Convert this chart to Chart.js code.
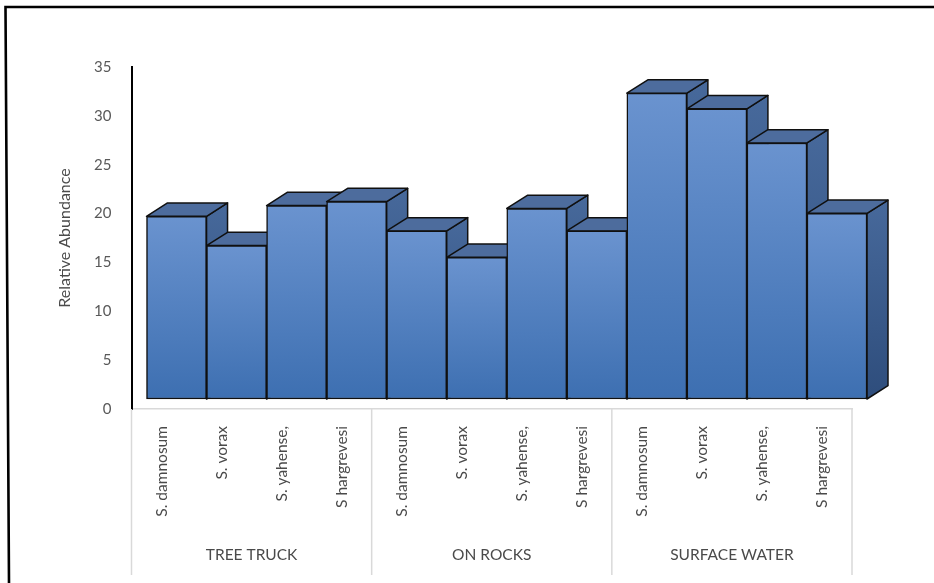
<!DOCTYPE html>
<html><head><meta charset="utf-8">
<script src="https://cdn.jsdelivr.net/npm/chart.js@4.4.1/dist/chart.umd.min.js"></script>
<style>html,body{margin:0;padding:0;background:#fff;} canvas{display:block;}</style>
</head><body>
<canvas id="c" width="934" height="583"></canvas>
<script>
const groups = ['TREE TRUCK', 'ON ROCKS', 'SURFACE WATER'];
const species = ['S. damnosum', 'S. vorax', 'S. yahense,', 'S hargrevesi'];
const treeTruck = [18.7, 15.7, 19.8, 20.2];
const onRocks = [17.2, 14.5, 19.5, 17.2];
const surfaceWater = [31.3, 29.7, 26.2, 19.0];
const yTicks = [0, 5, 10, 15, 20, 25, 30, 35];
const yTitle = 'Relative Abundance';

const labels = groups.flatMap(() => species);
const values = [...treeTruck, ...onRocks, ...surfaceWater];

const DX = 21, DY = 13.3, SHIFT_X = 15, SHIFT_Y = -10;
const FONT = 'Lato';

const framePlugin = {
  id: 'frame',
  beforeDraw(chart) {
    const ctx = chart.ctx;
    ctx.save();
    ctx.fillStyle = '#fff';
    ctx.fillRect(0, 0, chart.width, chart.height);
    ctx.strokeStyle = '#000';
    ctx.lineWidth = 2.6;
    ctx.beginPath();
    ctx.moveTo(9, 583);
    ctx.lineTo(5.5, 7);
    ctx.lineTo(934, 7);
    ctx.stroke();
    ctx.restore();
  }
};

const bar3d = {
  id: 'bar3d',
  beforeDatasetsDraw(chart) {
    const ctx = chart.ctx;
    ctx.save();
    ctx.translate(SHIFT_X, SHIFT_Y);
    const els = chart.getDatasetMeta(0).data;
    ctx.lineWidth = 1.5;
    ctx.strokeStyle = '#101010';
    ctx.lineJoin = 'round';
    els.forEach(el => {
      const p = el.getProps(['x', 'y', 'base', 'width'], true);
      const R = p.x + p.width / 2;
      const g = ctx.createLinearGradient(0, p.y - DY, 0, p.base);
      g.addColorStop(0, '#47699b');
      g.addColorStop(1, '#2e4d7c');
      ctx.beginPath();
      ctx.moveTo(R, p.y);
      ctx.lineTo(R + DX, p.y - DY);
      ctx.lineTo(R + DX, p.base - DY);
      ctx.lineTo(R, p.base);
      ctx.closePath();
      ctx.fillStyle = g;
      ctx.fill();
      ctx.stroke();
    });
    els.forEach(el => {
      const p = el.getProps(['x', 'y', 'base', 'width'], true);
      const L = p.x - p.width / 2, R = p.x + p.width / 2;
      ctx.beginPath();
      ctx.moveTo(L, p.y);
      ctx.lineTo(R, p.y);
      ctx.lineTo(R + DX, p.y - DY);
      ctx.lineTo(L + DX, p.y - DY);
      ctx.closePath();
      ctx.fillStyle = '#4d6c9d';
      ctx.fill();
      ctx.stroke();
    });
  },
  afterDatasetsDraw(chart) {
    chart.ctx.restore();
  }
};

const groupAxis = {
  id: 'groupAxis',
  afterDraw(chart) {
    const ctx = chart.ctx;
    const xs = chart.scales.x;
    const n = species.length;
    const bottom = chart.chartArea.bottom;
    ctx.save();
    ctx.strokeStyle = '#d9d9d9';
    ctx.lineWidth = 1.5;
    for (let g = 0; g <= groups.length; g++) {
      const x = xs.getPixelForValue(g * n - 0.5);
      ctx.beginPath();
      ctx.moveTo(x, bottom);
      ctx.lineTo(x, 575);
      ctx.stroke();
    }
    ctx.fillStyle = '#4a4a4a';
    ctx.font = '15.5px ' + FONT;
    ctx.textAlign = 'center';
    ctx.textBaseline = 'middle';
    groups.forEach((name, g) => {
      const x = xs.getPixelForValue(g * n + (n - 1) / 2);
      ctx.fillText(name, x, 555);
    });
    ctx.restore();
  }
};

new Chart(document.getElementById('c'), {
  type: 'bar',
  data: {
    labels: labels,
    datasets: [{
      data: values,
      clip: false,
      borderColor: '#101010',
      borderWidth: 1.5,
      borderSkipped: false,
      barPercentage: 1,
      categoryPercentage: 1,
      backgroundColor: (c) => {
        const ch = c.chart;
        if (!ch.chartArea || c.raw === undefined) return '#5583c2';
        const ys = ch.scales.y;
        const top = ys.getPixelForValue(c.raw);
        const base = ys.getPixelForValue(0);
        const g = ch.ctx.createLinearGradient(0, top, 0, base);
        g.addColorStop(0, '#6a93cf');
        g.addColorStop(1, '#3d6fb1');
        return g;
      }
    }]
  },
  options: {
    responsive: false,
    animation: false,
    devicePixelRatio: 1,
    layout: { padding: { left: 0, right: 82, top: 67, bottom: 0 } },
    plugins: { legend: { display: false }, tooltip: { enabled: false } },
    scales: {
      x: {
        grid: { display: false, drawTicks: false },
        border: { display: true, color: '#d9d9d9', width: 1.5 },
        ticks: {
          minRotation: 90, maxRotation: 90, autoSkip: false,
          font: { family: FONT, size: 15.5 }, color: '#4a4a4a', padding: 17
        },
        afterFit: (s) => { s.height = 174; }
      },
      y: {
        min: 0, max: 35,
        grid: { display: false, drawTicks: false },
        border: { display: true, color: '#000', width: 2 },
        afterBuildTicks: (s) => { s.ticks = yTicks.map(v => ({ value: v })); },
        ticks: { font: { family: FONT, size: 15 }, color: '#595959', padding: 20 },
        title: {
          display: true, text: yTitle,
          font: { family: FONT, size: 16 }, color: '#4a4a4a',
          padding: { top: 55, bottom: 0 }
        },
        afterFit: (s) => { s.width = 131.5; }
      }
    }
  },
  plugins: [framePlugin, bar3d, groupAxis]
});
</script>
</body></html>
